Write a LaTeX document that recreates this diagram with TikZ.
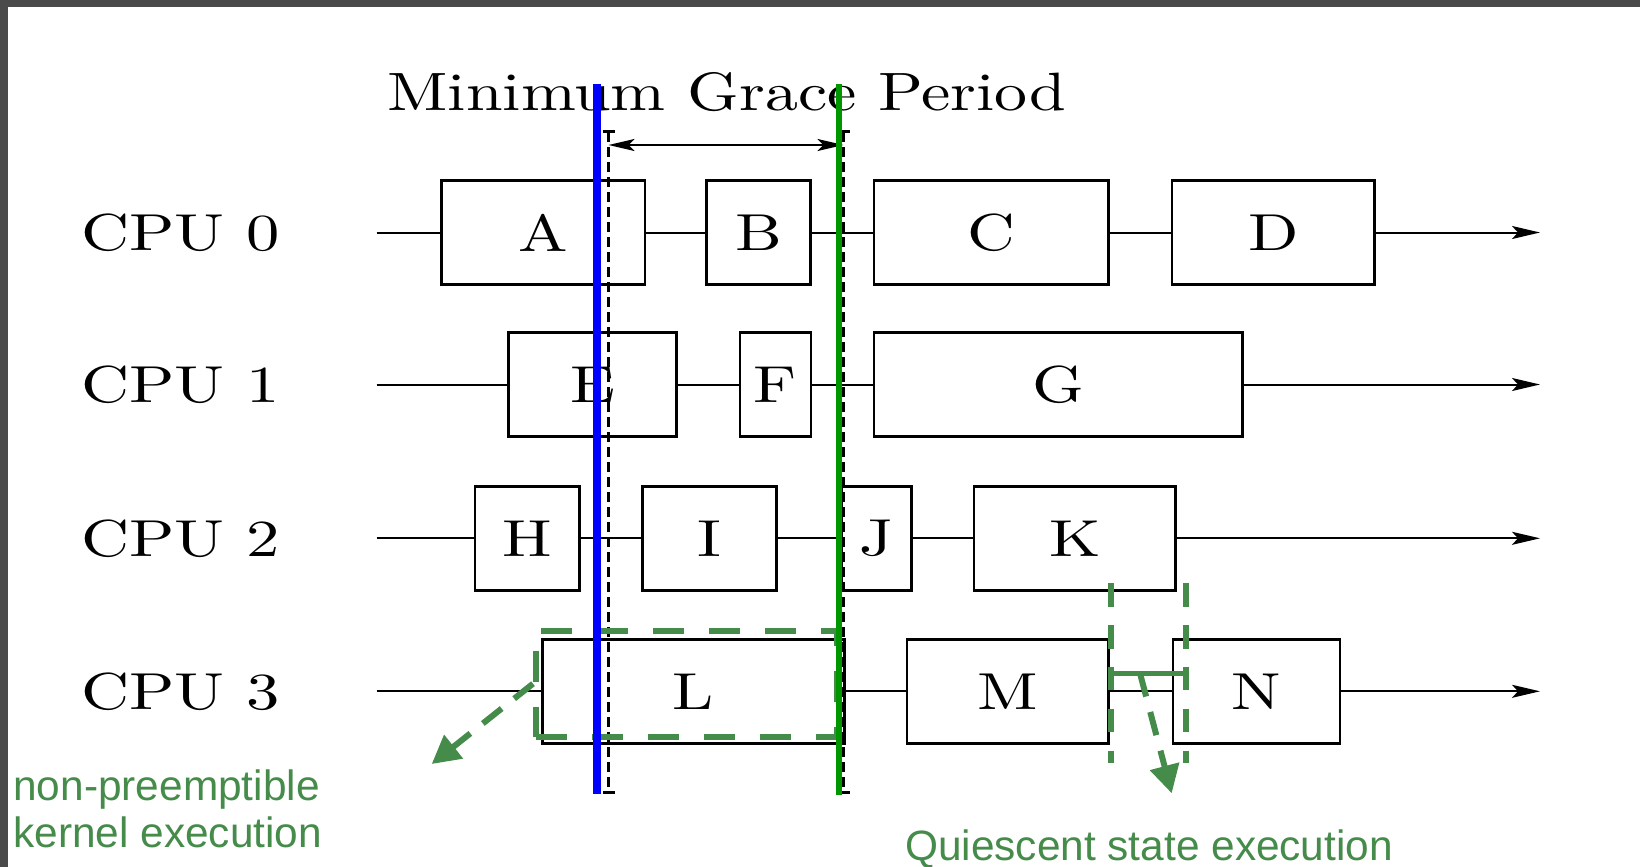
\documentclass[tikz,border=0pt]{standalone}
\usepackage{fontspec}
\usetikzlibrary{arrows.meta,positioning}
\newfontfamily\notefont{Liberation Sans}
\newfontfamily\cmten{lmroman10-regular}[Extension=.otf]
\definecolor{Frame}{HTML}{4A4A4A}
\definecolor{QGreen}{HTML}{458B4A}
\definecolor{GPGreen}{HTML}{009600}
\definecolor{GPBlue}{HTML}{0000FF}
\newcommand{\wide}[2][1.27]{\scalebox{#1}[1]{#2}}
\tikzset{
  box/.style={draw=black,line width=1.3pt,minimum height=52pt,inner sep=0pt,font=\cmten\fontsize{26}{30}\selectfont},
  cpu/.style={anchor=west,inner sep=0pt,font=\cmten\fontsize{26}{30}\selectfont},
  gptitle/.style={anchor=base west,inner sep=0pt,font=\cmten\fontsize{27}{32}\selectfont},
  rowline/.style={line width=1pt,-{Stealth[length=14pt,width=6.5pt,inset=3pt]}},
  gpline/.style={line width=1.4pt,dash pattern=on 5pt off 2.5pt,{Bar[width=6pt]}-{Bar[width=6pt]}},
  gparrow/.style={line width=1pt,{Stealth[length=13pt,width=6pt,inset=3pt]}-{Stealth[length=13pt,width=6pt,inset=3pt]}},
  gpstart/.style={draw=GPBlue,line width=4pt},
  gpend/.style={draw=GPGreen,line width=3pt},
  npkbox/.style={draw=QGreen,line width=3pt,dash pattern=on 15.5pt off 12.5pt,minimum width=150.4pt,minimum height=53pt,inner sep=0pt},
  qsdash/.style={draw=QGreen,line width=3pt,dash pattern=on 11.7pt off 9.2pt},
  qsbar/.style={draw=QGreen,line width=2.5pt},
  qsarrow/.style={draw=QGreen,line width=3pt,dash pattern=on 12pt off 8pt,-{Triangle[length=14pt,width=14.5pt]}},
  note/.style={text=QGreen,inner sep=0pt,font=\notefont\fontsize{21.2}{23.3}\selectfont}
}

\begin{document}
\begin{tikzpicture}[x=0.5pt,y=-0.5pt]
  \useasboundingbox (0,0) rectangle (1640,867);
  \fill[white] (0,0) rectangle (1640,867);
  \fill[Frame] (0,0) rectangle (1640,7);
  \fill[Frame] (0,0) rectangle (8,867);

  \node[gptitle] (gp) at (387,110) {\wide[1.22]{Minimum Grace Period}};

  \foreach \r/\y in {0/232.5,1/384.5,2/538.3,3/691.3} {
    \node[cpu] (cpu\r) at (81,\y) {\wide[1.28]{CPU \r}};
    \coordinate (s\r) at (376.7,\y);
    \coordinate (e\r) at (1540,\y);
  }

  \node[box,minimum width=101.7pt] (A) at (543.4,232.5) {\wide{A}};
  \node[box,minimum width=52pt] (B) at (758.7,232.5) {\wide{B}};
  \node[box,minimum width=117.4pt] (C) at (991.3,232.5) {\wide{C}};
  \node[box,minimum width=101.3pt] (D) at (1273.4,232.5) {\wide{D}};
  \node[box,minimum width=84.2pt] (E) at (592.5,384.5) {\wide{E}};
  \node[box,minimum width=35.5pt] (F) at (775.5,384.5) {\wide{F}};
  \node[box,minimum width=184.3pt] (G) at (1058.2,384.5) {\wide{G}};
  \node[box,minimum width=52.2pt] (H) at (527.2,538.3) {\wide{H}};
  \node[box,minimum width=67pt] (I) at (709.7,538.3) {\wide{I}};
  \node[box,minimum width=34.9pt] (J) at (876.6,538.3) {\wide{J}};
  \node[box,minimum width=100.9pt] (K) at (1074.8,538.3) {\wide{K}};
  \node[box,minimum width=150.8pt] (L) at (693.5,691.3) {\wide{L}};
  \node[box,minimum width=100.9pt] (M) at (1007.7,691.3) {\wide{M}};
  \node[box,minimum width=83.5pt] (N) at (1256.5,691.3) {\wide{N}};

  \draw[rowline] (s0) -- (A) -- (B) -- (C) -- (D) -- (e0);
  \draw[rowline] (s1) -- (E) -- (F) -- (G) -- (e1);
  \draw[rowline] (s2) -- (H) -- (I) -- (J) -- (K) -- (e2);
  \draw[rowline] (s3) -- (L) -- (M) -- (N) -- (e3);

  \draw[gpline] (608.5,130) -- (608.5,793.5);
  \draw[gpline] (843.5,130) -- (843.5,793.5);
  \coordinate (gpl) at (608.5,145);
  \coordinate (gpr) at (843.5,145);
  \draw[gparrow] (gpl) -- (gpr);

  \node[npkbox] (npk) at (686.4,683.7) {};
  \coordinate (npktip) at (431.7,764);
  \draw[qsarrow] (npk.west) -- (npktip);
  \node[note,anchor=north west,align=left] (npktext) at (13,769.5) {non-preemptible\\kernel execution};

  \coordinate (qsl) at (1111.4,673.3);
  \coordinate (qsr) at (1186.4,673.3);
  \draw[qsdash] (1111.4,583.3) -- (1111.4,763.3);
  \draw[qsdash] (1186.4,583.3) -- (1186.4,763.3);
  \draw[qsbar] (qsl) -- (qsr);
  \coordinate (qsmid) at (1140,673.3);
  \coordinate (qstip) at (1171.7,793.3);
  \draw[qsarrow] (qsmid) -- (qstip);
  \node[note,anchor=base west] (qstext) at (904.7,860.5) {Quiescent state execution};

  \draw[gpstart] (597.3,84) -- (597.3,794.3);
  \draw[gpend] (839.3,84) -- (839.3,795);
\end{tikzpicture}
\end{document}
